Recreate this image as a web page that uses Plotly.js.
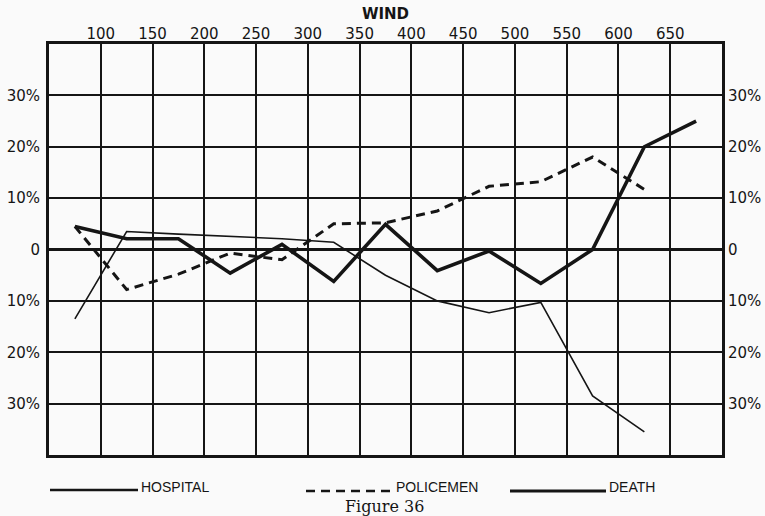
<!DOCTYPE html>
<html>
<head>
<meta charset="utf-8">
<script src="https://cdn.plot.ly/plotly-3.0.1.min.js"></script>
<style>
  html, body { margin: 0; padding: 0; background: #fafafa; }
  #chart { width: 765px; height: 516px; }
</style>
</head>
<body>
<div id="chart"></div>
<script>
// Wind values at which the series are plotted (cell midpoints)
const wind = [75, 125, 175, 225, 275, 325, 375, 425, 475, 525, 575, 625, 675];
// Percent deviations
const hospital   = [-13.5, 3.5, 3.0, 2.6, 2.1, 1.4, -5.0, -10.0, -12.3, -10.3, -28.5, -35.5, null];
const policemen  = [4.5, -7.8, -4.8, -0.7, -2.0, 5.0, 5.2, 7.5, 12.3, 13.2, 18.0, 11.7, null];
const death      = [4.5, 2.1, 2.1, -4.6, 1.0, -6.2, 4.9, -4.1, -0.3, -6.6, 0.0, 20.0, 25.0];

// Axis ticks and labels
const windTicks  = [100, 150, 200, 250, 300, 350, 400, 450, 500, 550, 600, 650];
const windLabels = ['100', '150', '200', '250', '300', '350', '400', '450', '500', '550', '600', '650'];
const pctTicks   = [-30, -20, -10, 0, 10, 20, 30];
const pctLabels  = ['30%', '20%', '10%', '0', '10%', '20%', '30%'];

const seriesNames = ['HOSPITAL', 'POLICEMEN', 'DEATH'];

// Plot geometry (pixels)
const L = 49, R = 722, T = 44, B = 455;
const W = R - L, H = B - T;
const PX = v => (v - L) / W;
const PY = v => (B - v) / H;

const INK = '#151515';

const traces = [
  { x: wind, y: hospital, name: seriesNames[0], mode: 'lines', type: 'scatter',
    line: { color: INK, width: 1.6 }, hoverinfo: 'skip', connectgaps: false },
  { x: wind, y: policemen, name: seriesNames[1], mode: 'lines', type: 'scatter',
    line: { color: INK, width: 3, dash: '9px,6px' }, hoverinfo: 'skip' },
  { x: wind, y: death, name: seriesNames[2], mode: 'lines', type: 'scatter', yaxis: 'y2',
    line: { color: INK, width: 3.6 }, hoverinfo: 'skip' }
];

const tickFont = { family: 'DejaVu Sans', size: 15, color: INK };
const legFont = { family: 'Liberation Sans', size: 14, color: INK };

const legY = 489;
const shapes = [
  { type: 'line', xref: 'paper', yref: 'paper', x0: PX(50), x1: PX(138), y0: PY(legY + 1), y1: PY(legY + 1),
    line: { color: INK, width: 2.4 } },
  { type: 'line', xref: 'paper', yref: 'paper', x0: PX(306), x1: PX(393), y0: PY(legY + 2), y1: PY(legY + 2),
    line: { color: INK, width: 2.6, dash: '9px,6px' } },
  { type: 'line', xref: 'paper', yref: 'paper', x0: PX(510), x1: PX(606), y0: PY(legY + 2), y1: PY(legY + 2),
    line: { color: INK, width: 3.2 } }
];

const annotations = [
  { text: seriesNames[0], x: PX(139), y: PY(legY - 2), xref: 'paper', yref: 'paper',
    xanchor: 'left', yanchor: 'middle', showarrow: false, font: legFont },
  { text: seriesNames[1], x: PX(394), y: PY(legY - 2), xref: 'paper', yref: 'paper',
    xanchor: 'left', yanchor: 'middle', showarrow: false, font: legFont },
  { text: seriesNames[2], x: PX(607), y: PY(legY - 2), xref: 'paper', yref: 'paper',
    xanchor: 'left', yanchor: 'middle', showarrow: false, font: legFont },
  { text: 'Figure 36', x: PX(384), y: PY(506), xref: 'paper', yref: 'paper',
    xanchor: 'center', yanchor: 'middle', showarrow: false,
    font: { family: 'DejaVu Serif', size: 16, color: INK } }
];

const layout = {
  width: 765, height: 516,
  margin: { l: L, r: 765 - R, t: T, b: 516 - B, pad: 0 },
  paper_bgcolor: '#fafafa', plot_bgcolor: '#fafafa',
  showlegend: false,
  title: { text: '<b>WIND</b>', x: 0.5, xref: 'paper', xanchor: 'center',
           y: 1 - 14 / 516, yref: 'container', yanchor: 'middle',
           font: { family: 'DejaVu Sans', size: 15, color: INK } },
  xaxis: {
    range: [50, 700], side: 'top', tickmode: 'array', tickvals: windTicks, ticktext: windLabels,
    showgrid: true, gridcolor: INK, gridwidth: 2, zeroline: false,
    showline: true, linecolor: INK, linewidth: 3, mirror: true,
    ticks: '', ticklabelstandoff: -4, tickfont: tickFont, fixedrange: true
  },
  yaxis: {
    range: [-40, 40], tickmode: 'array', tickvals: pctTicks, ticktext: pctLabels,
    showgrid: true, gridcolor: INK, gridwidth: 2,
    zeroline: true, zerolinecolor: INK, zerolinewidth: 3.6,
    showline: true, linecolor: INK, linewidth: 3, mirror: true,
    ticks: '', ticklabelstandoff: 3, tickfont: tickFont, fixedrange: true
  },
  yaxis2: {
    range: [-40, 40], overlaying: 'y', side: 'right', tickmode: 'array',
    tickvals: pctTicks, ticktext: pctLabels, showgrid: false, zeroline: false,
    showline: false, ticks: '', ticklabelstandoff: 5, tickfont: tickFont, fixedrange: true
  },
  shapes: shapes,
  annotations: annotations
};

Plotly.newPlot('chart', traces, layout, { staticPlot: true, displayModeBar: false });
</script>
</body>
</html>
